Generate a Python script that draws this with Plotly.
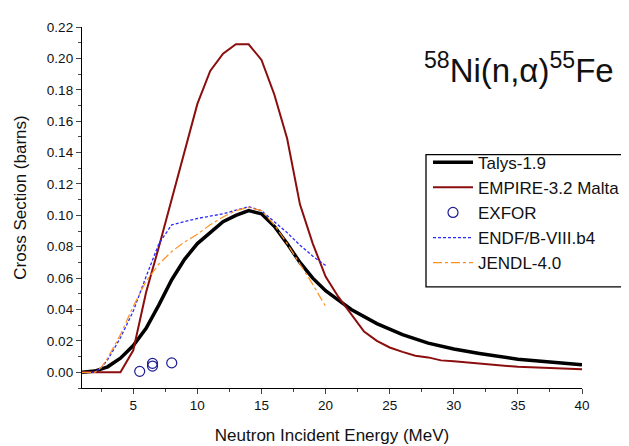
import plotly.graph_objects as go

# ---- data ----
talys_e = [1, 2, 3, 4, 5, 6, 7, 8, 9, 10, 11, 12, 13, 14, 15, 16, 17, 18, 19, 20,
           21, 22, 24, 25, 26, 28, 30, 32, 35, 40]
talys_xs = [0.0, 0.0008, 0.0035, 0.009, 0.017, 0.028, 0.043, 0.059, 0.072, 0.082,
            0.089, 0.096, 0.100, 0.103, 0.101, 0.093, 0.082, 0.070, 0.060, 0.052,
            0.046, 0.040, 0.031, 0.0275, 0.024, 0.0186, 0.0148, 0.012, 0.0083, 0.0048]

empire_e = [1, 2, 3, 4, 5, 6, 7, 8, 9, 10, 11, 12, 13, 14, 15, 16, 17, 18, 19, 20,
            21, 22, 23, 24, 25, 26, 27, 28, 29, 30, 35, 40]
empire_xs = [0.0, 0.0, 0.0, 0.0, 0.014, 0.051, 0.080, 0.110, 0.140, 0.171, 0.192,
             0.203, 0.209, 0.209, 0.199, 0.177, 0.149, 0.107, 0.082, 0.061, 0.048,
             0.037, 0.026, 0.020, 0.0158, 0.013, 0.0106, 0.0095, 0.0076, 0.007,
             0.0035, 0.002]

exfor_e = [5.5, 6.5, 6.5, 8.0]
exfor_xs = [0.0006, 0.0040, 0.0057, 0.0060]

endf_e = [1, 2, 2.5, 3, 4, 5, 6, 7, 8, 10, 12, 14, 15, 16, 17, 18, 19, 20]
endf_xs = [0.0, 0.0, 0.003, 0.008, 0.022, 0.039, 0.061, 0.082, 0.094, 0.098,
           0.101, 0.1055, 0.103, 0.096, 0.089, 0.081, 0.074, 0.068]

jendl_e = [1, 2, 2.5, 3, 4, 5, 6, 7, 8, 9, 10, 11, 12, 13, 14, 15, 16, 17, 18, 19, 20]
jendl_xs = [0.0, 0.0, 0.003, 0.009, 0.024, 0.042, 0.058, 0.069, 0.077, 0.083,
            0.088, 0.094, 0.099, 0.103, 0.105, 0.103, 0.094, 0.082, 0.069,
            0.056, 0.042]

x_ticks = [5, 10, 15, 20, 25, 30, 35, 40]
y_ticks = [0.00, 0.02, 0.04, 0.06, 0.08, 0.10, 0.12, 0.14, 0.16, 0.18, 0.20, 0.22]

FONT = "Liberation Sans, Arial, sans-serif"

# plot area in screen pixels (page body has an 8px margin, compensated below)
PL, PT, PW, PH = 82, 20, 500, 368
OFF = 8


def px(xp):
    return (xp - PL) / PW


def py(yp):
    return (PT + PH - yp) / PH


fig = go.Figure()
fig.add_trace(go.Scatter(x=talys_e, y=talys_xs, mode="lines", name="Talys-1.9",
                         line=dict(color="black", width=3.5)))
fig.add_trace(go.Scatter(x=empire_e, y=empire_xs, mode="lines", name="EMPIRE-3.2 Malta",
                         line=dict(color="#8b0e0e", width=2)))
fig.add_trace(go.Scatter(x=exfor_e, y=exfor_xs, mode="markers", name="EXFOR",
                         marker=dict(symbol="circle-open", size=10,
                                     color="#1c1c94", line=dict(width=1.2))))
fig.add_trace(go.Scatter(x=endf_e, y=endf_xs, mode="lines", name="ENDF/B-VIII.b4",
                         line=dict(color="#2a2aff", width=1.3, dash="3px,2px")))
fig.add_trace(go.Scatter(x=jendl_e, y=jendl_xs, mode="lines", name="JENDL-4.0",
                         line=dict(color="#ff9020", width=1.2, dash="dashdot")))

fig.update_layout(
    width=629, height=446,
    margin=dict(l=PL - OFF, r=629 - (PL - OFF) - PW, t=PT - OFF, b=446 - (PT - OFF) - PH),
    paper_bgcolor="white", plot_bgcolor="white",
    font=dict(family=FONT, color="#111", size=13.5),
    showlegend=True,
    legend=dict(x=px(428), y=py(140), xanchor="left", yanchor="top",
                bgcolor="rgba(0,0,0,0)", borderwidth=0,
                font=dict(family=FONT, size=17, color="#111"),
                itemwidth=40, tracegroupgap=0),
    shapes=[dict(type="rect", xref="paper", yref="paper",
                 x0=px(426), x1=px(636), y0=py(285), y1=py(150),
                 line=dict(color="black", width=1.3), fillcolor="rgba(0,0,0,0)")],
    annotations=[
        dict(text="<sup>58</sup>Ni(n,α)<sup>55</sup>Fe", xref="paper", yref="paper",
             x=px(519), y=py(62), xanchor="center", yanchor="middle",
             showarrow=False, font=dict(family=FONT, size=33, color="#111")),
        dict(text="Cross Section (barns)", xref="paper", yref="paper",
             x=px(21), y=py(194), xanchor="center", yanchor="middle", textangle=-90,
             showarrow=False, font=dict(family=FONT, size=17, color="#111")),
    ],
)

fig.update_xaxes(range=[1, 40], tickvals=x_ticks, ticks="outside", ticklen=5, tickwidth=1.3,
                 showline=True, linecolor="black", linewidth=1.3, showgrid=False, zeroline=False,
                 mirror=False, tickfont=dict(size=13.5),
                 minor=dict(ticks="outside", ticklen=3, tickwidth=1.2, dtick=2.5, tick0=0,
                            showgrid=False),
                 title=dict(text="Neutron Incident Energy (MeV)", font=dict(size=17), standoff=16))
fig.update_yaxes(range=[-0.01, 0.22], tickvals=y_ticks, tickformat=".2f", ticks="outside",
                 ticklen=5, tickwidth=1.3,
                 showline=True, linecolor="black", linewidth=1.3, showgrid=False, zeroline=False,
                 mirror=False, tickfont=dict(size=13.5),
                 minor=dict(ticks="outside", ticklen=3, tickwidth=1.2, dtick=0.01, tick0=0,
                            showgrid=False))

fig.write_html("out.html")
